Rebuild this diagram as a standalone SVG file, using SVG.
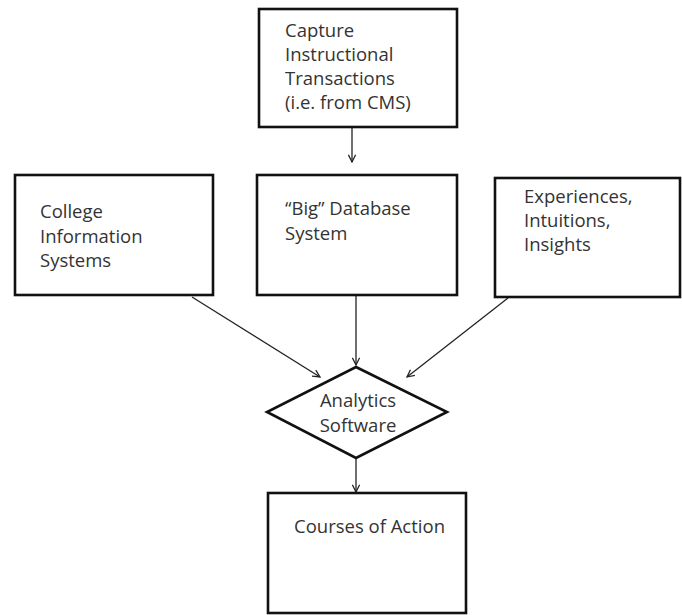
<svg xmlns="http://www.w3.org/2000/svg" width="682" height="615" viewBox="0 0 682 615">
<style>
.box{fill:#fff;stroke:#111;stroke-width:2.6}
.lbl{font-family:"Open Sans","DejaVu Sans",sans-serif;font-size:18.5px;fill:#333}
.con{stroke:#222;stroke-width:1.3;fill:none;marker-end:url(#ah)}
</style>
<defs>
<marker id="ah" viewBox="0 0 10 10" refX="9" refY="5" markerWidth="9" markerHeight="9" markerUnits="userSpaceOnUse" orient="auto">
<path d="M1,1 L9,5 L1,9" fill="none" stroke="#222" stroke-width="1.4"/>
</marker>
</defs>
<rect width="682" height="615" fill="#fff"/>
<g id="connectors">
<line class="con" x1="352" y1="128" x2="352" y2="162"/>
<line class="con" x1="356" y1="296" x2="356" y2="365"/>
<line class="con" x1="192" y1="297" x2="320" y2="377"/>
<line class="con" x1="508" y1="298" x2="407" y2="377"/>
<line class="con" x1="356" y1="459" x2="356" y2="492"/>
</g>
<g id="capture">
<rect class="box" x="259" y="9" width="198" height="118"/>
<text class="lbl" x="285" y="37">Capture</text>
<text class="lbl" x="285" y="61">Instructional</text>
<text class="lbl" x="285" y="85">Transactions</text>
<text class="lbl" x="285" y="109">(i.e. from CMS)</text>
</g>
<g id="college">
<rect class="box" x="15" y="175" width="198" height="120"/>
<text class="lbl" x="40" y="218">College</text>
<text class="lbl" x="40" y="243">Information</text>
<text class="lbl" x="40" y="267">Systems</text>
</g>
<g id="bigdb">
<rect class="box" x="257" y="175" width="200" height="120"/>
<text class="lbl" x="285" y="215">“Big” Database</text>
<text class="lbl" x="285" y="240">System</text>
</g>
<g id="experiences">
<rect class="box" x="495" y="178" width="185" height="119"/>
<text class="lbl" x="524" y="203">Experiences,</text>
<text class="lbl" x="524" y="227">Intuitions,</text>
<text class="lbl" x="524" y="251">Insights</text>
</g>
<g id="analytics">
<polygon class="box" points="356,367 447,412 356,458 267,412"/>
<text class="lbl" x="358" y="407" text-anchor="middle">Analytics</text>
<text class="lbl" x="358" y="432" text-anchor="middle">Software</text>
</g>
<g id="courses">
<rect class="box" x="268" y="493" width="198" height="120"/>
<text class="lbl" x="294" y="533">Courses of Action</text>
</g>
</svg>
